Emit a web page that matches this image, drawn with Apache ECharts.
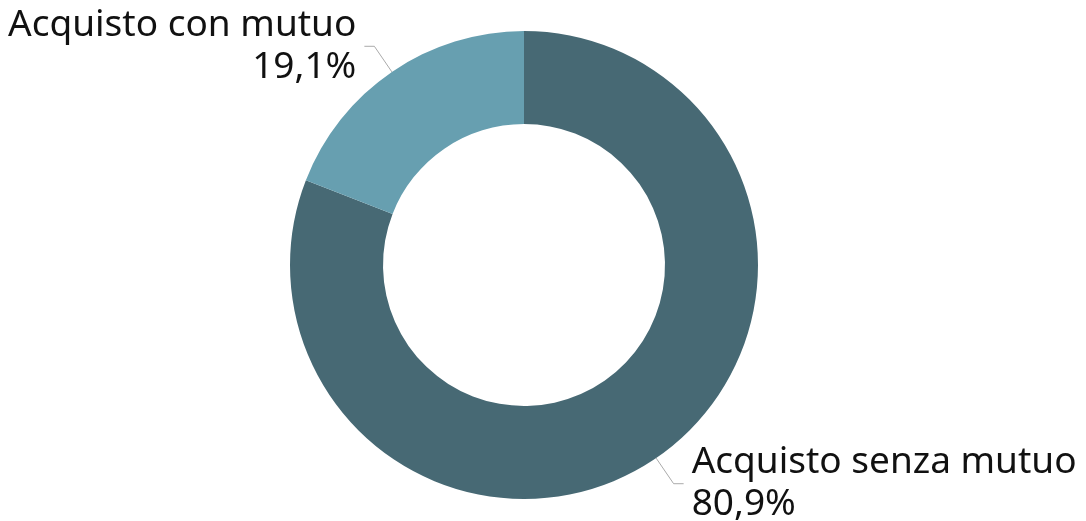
<!DOCTYPE html>
<html>
<head>
<meta charset="utf-8">
<script src="https://cdn.jsdelivr.net/npm/echarts@6/dist/echarts.min.js"></script>
<style>
html,body{margin:0;padding:0;background:#fff;}
#chart{width:1086px;height:521px;}
</style>
</head>
<body>
<div id="chart"></div>
<script>
const categories = ['Acquisto senza mutuo', 'Acquisto con mutuo'];
const values = [80.9, 19.1];
const colors = ['#476974', '#679fb0'];

const chart = echarts.init(document.getElementById('chart'), null, {renderer: 'canvas'});
const data = categories.map((c, i) => ({
  name: c,
  value: values[i],
  itemStyle: {color: colors[i]}
}));
chart.setOption({
  animation: false,
  series: [{
    type: 'pie',
    center: [524, 265],
    radius: [141, 234],
    startAngle: 90,
    clockwise: true,
    avoidLabelOverlap: false,
    emphasis: {disabled: true},
    itemStyle: {borderWidth: 0},
    label: {
      show: true,
      position: 'outside',
      fontFamily: 'Noto Sans',
      fontSize: 37,
      lineHeight: 42,
      color: '#111',
      distanceToLabelLine: 8,
      formatter: p => p.name + '\n' + String(p.value).replace('.', ',') + '%'
    },
    labelLine: {
      show: true,
      length: 31,
      length2: 10,
      lineStyle: {color: '#aaaaaa', width: 1}
    },
    data: data
  }]
});
</script>
</body>
</html>
